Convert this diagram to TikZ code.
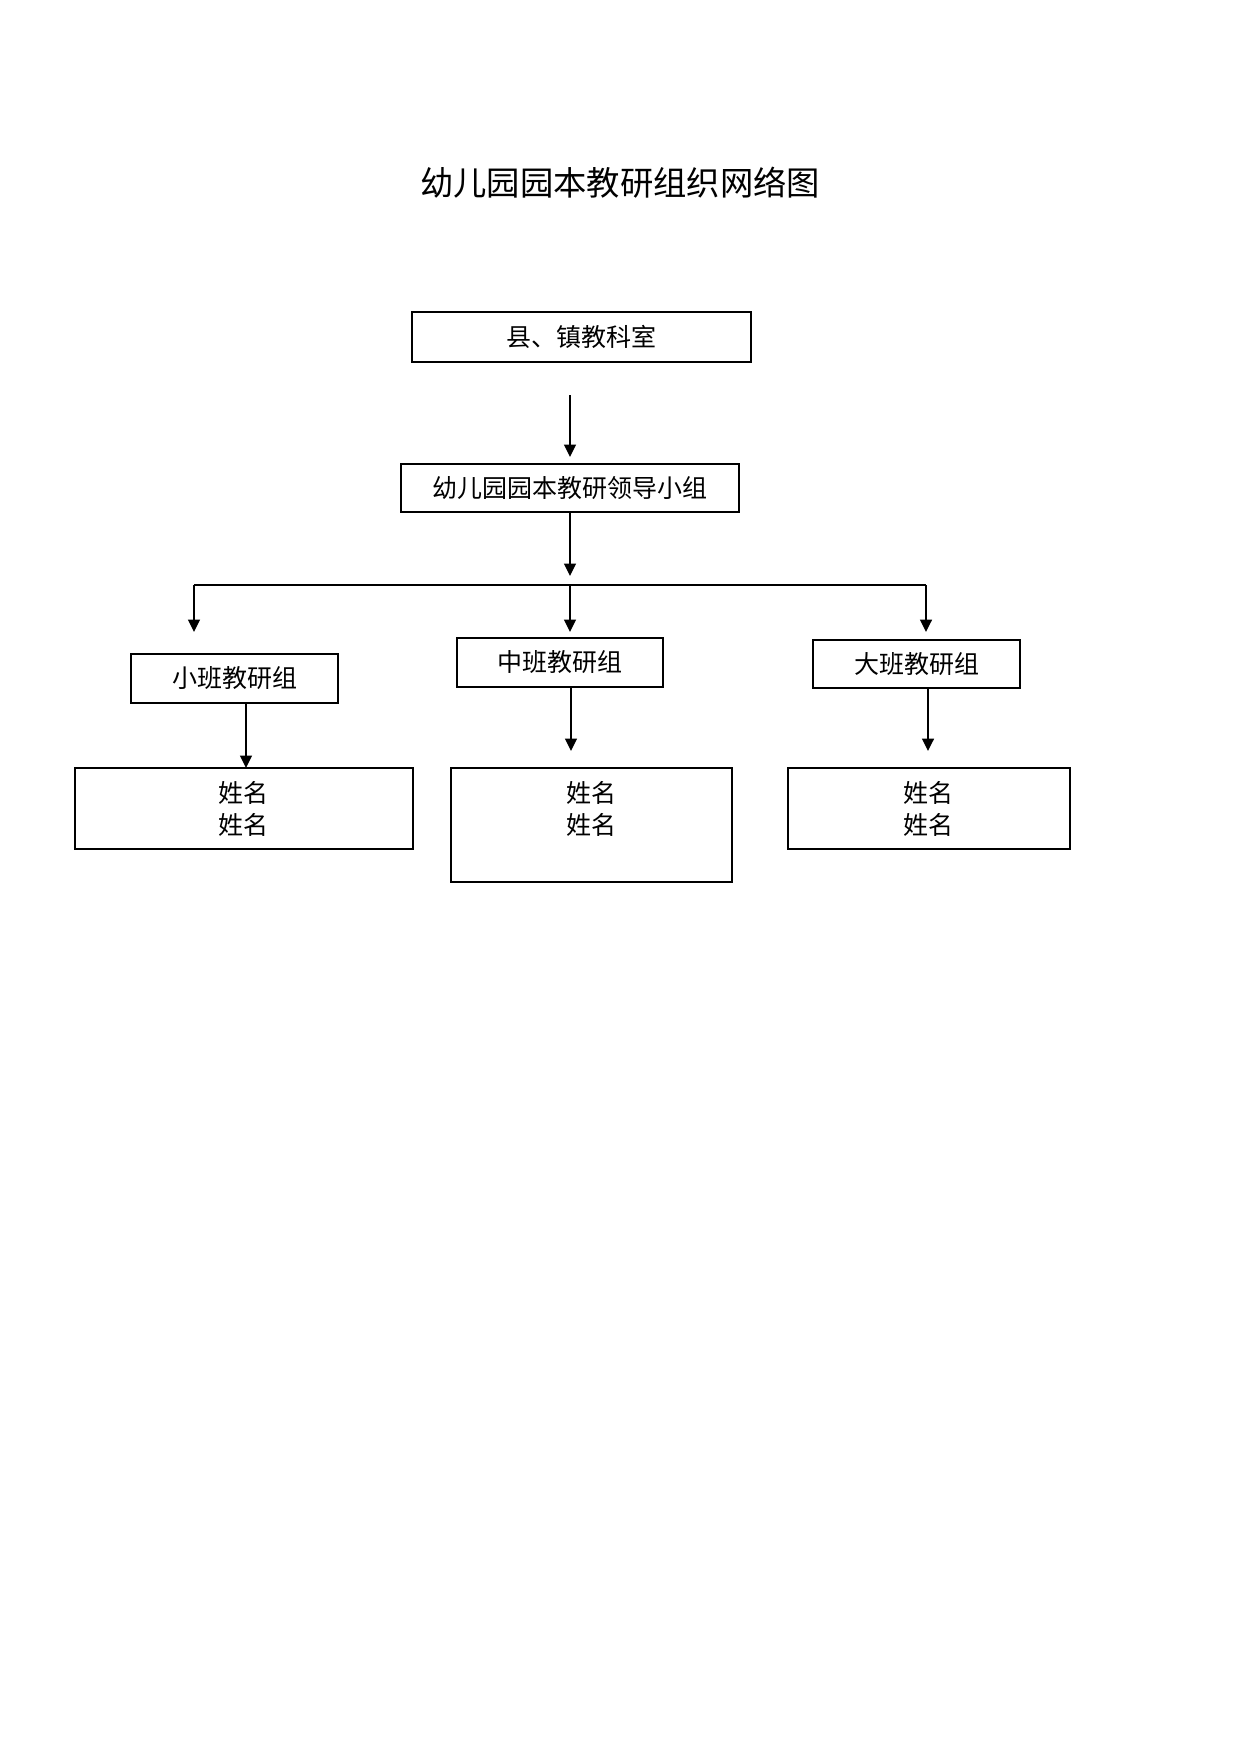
\documentclass[tikz,border=0pt]{standalone}
\usepackage{fontspec}
\newfontfamily\cjk{Noto Sans CJK SC}
\usetikzlibrary{arrows.meta}
\newcommand{\pxu}{0.48pt}
\tikzset{
  box/.style={draw, line width=0.9pt, inner sep=0pt, font=\cjk\fontsize{12pt}{15.4pt}\selectfont, align=center},
  lbl/.style={inner sep=0pt, font=\cjk\fontsize{12pt}{15.4pt}\selectfont, align=center},
  arr/.style={line width=0.7pt, -{Triangle[length=6pt,width=5.8pt]}},
  ln/.style={line width=0.7pt}
}
\begin{document}
\begin{tikzpicture}[x=0.48pt,y=-0.48pt]
\useasboundingbox[fill=white] (0,0) rectangle (1241,1755);
% title
\node[inner sep=0pt, font=\cjk\fontsize{16pt}{19pt}\selectfont] (title) at (620,183) {幼儿园园本教研组织网络图};
% boxes
\node[box, minimum width=339*\pxu, minimum height=50*\pxu] (b1) at (581.5,337) {县、镇教科室};
\node[box, minimum width=338*\pxu, minimum height=48*\pxu] (b2) at (570,488) {幼儿园园本教研领导小组};
\node[box, minimum width=207*\pxu, minimum height=49*\pxu] (s) at (234.5,678.5) {小班教研组};
\node[box, minimum width=206*\pxu, minimum height=49*\pxu] (m) at (560,662.5) {中班教研组};
\node[box, minimum width=207*\pxu, minimum height=48*\pxu] (l) at (916.5,664) {大班教研组};
\node[box, minimum width=338*\pxu, minimum height=81*\pxu] (n1) at (244,808.5) {};
\node[box, minimum width=281*\pxu, minimum height=114*\pxu] (n2) at (591.5,825) {};
\node[box, minimum width=282*\pxu, minimum height=81*\pxu] (n3) at (929,808.5) {};
\node[lbl] (n1t) at (243,809) {姓名\\姓名};
\node[lbl] (n2t) at (591,809) {姓名\\姓名};
\node[lbl] (n3t) at (928,809) {姓名\\姓名};
% coordinates for connector ends
\coordinate (a1s) at (570,395);
\coordinate (a1e) at (570,457);
\coordinate (a2e) at (570,576);
\coordinate (busL) at (194,585);
\coordinate (busM) at (570,585);
\coordinate (busR) at (926,585);
\coordinate (dL) at (194,632);
\coordinate (dM) at (570,632);
\coordinate (dR) at (926,632);
\coordinate (mS) at (571,687);
\coordinate (mE) at (571,751);
\coordinate (lS) at (928,688);
\coordinate (lE) at (928,751);
\coordinate (sS) at (246,703);
\coordinate (sE) at (246,768);
% connectors
\draw[arr] (a1s) -- (a1e);
\draw[arr] (b2.south) -- (a2e);
\draw[ln] (busL) -- (busR);
\draw[arr] (busL) -- (dL);
\draw[arr] (busM) -- (dM);
\draw[arr] (busR) -- (dR);
\draw[arr] (sS) -- (sE);
\draw[arr] (mS) -- (mE);
\draw[arr] (lS) -- (lE);
\end{tikzpicture}
\end{document}
